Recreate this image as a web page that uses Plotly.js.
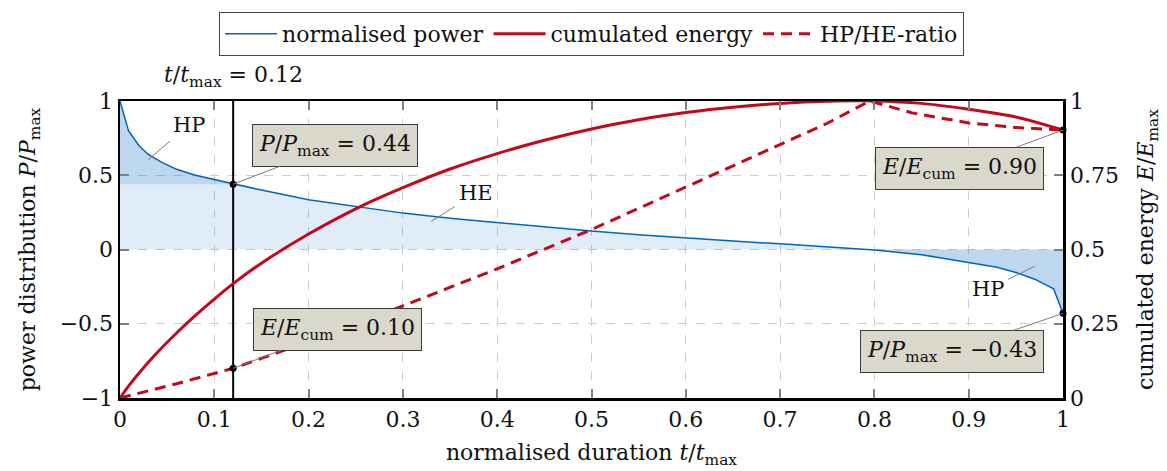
<!DOCTYPE html>
<html><head><meta charset="utf-8">
<script src="https://cdn.plot.ly/plotly-3.0.1.min.js"></script>
<style>html,body{margin:0;padding:0;background:#fff}#chart{width:1167px;height:471px}</style>
</head><body><div id="chart"></div>
<script>
// ---- data ----
const tPower = [0,0.009,0.02,0.03,0.045,0.06,0.08,0.1,0.12,0.15,0.2,0.25,0.3,0.35,0.4,0.45,0.5,0.55,0.6,0.65,0.7,0.75,0.8,0.85,0.9,0.93,0.95,0.97,0.99,1];
const power  = [1,0.80,0.70,0.64,0.585,0.54,0.50,0.47,0.44,0.40,0.335,0.292,0.245,0.21,0.18,0.15,0.124,0.10,0.076,0.057,0.038,0.018,-0.004,-0.035,-0.085,-0.12,-0.155,-0.2,-0.265,-0.43];
const tEnergy = [0,0.01,0.025,0.04,0.06,0.08,0.1,0.12,0.15,0.2,0.25,0.3,0.35,0.4,0.45,0.5,0.55,0.6,0.65,0.7,0.75,0.8,0.85,0.9,0.95,1];
const energy  = [0,0.044,0.102,0.155,0.219,0.278,0.333,0.385,0.454,0.552,0.637,0.708,0.771,0.823,0.868,0.906,0.937,0.961,0.979,0.992,0.999,1.0,0.992,0.972,0.946,0.902];
const tRatio = [0,0.06,0.12,0.2,0.3,0.4,0.5,0.6,0.7,0.75,0.795,0.84,0.9,0.95,1];
const ratio  = [0,0.048,0.10,0.19,0.31,0.435,0.567,0.71,0.852,0.925,1.0,0.96,0.926,0.911,0.902];
const tCursor = 0.12;
const xTicks = [0,0.1,0.2,0.3,0.4,0.5,0.6,0.7,0.8,0.9,1];
const xTickText = ['0','0.1','0.2','0.3','0.4','0.5','0.6','0.7','0.8','0.9','1'];
const yTicks = [-1,-0.5,0,0.5,1];
const yTickText = ['\u22121','\u22120.5','0','0.5','1'];
const y2Ticks = [0,0.25,0.5,0.75,1];
const y2TickText = ['0','0.25','0.5','0.75','1'];
const seriesNames = ['normalised power','cumulated energy','HP/HE-ratio'];
const boxTexts = ['<i>P</i>/<i>P</i><sub>max</sub> = 0.44','<i>E</i>/<i>E</i><sub>cum</sub> = 0.10','<i>E</i>/<i>E</i><sub>cum</sub> = 0.90','<i>P</i>/<i>P</i><sub>max</sub> = \u22120.43'];
const regionTexts = ['HP','HE','HP'];

// ---- derived ----
const iC = tPower.indexOf(tCursor);
const pCursor = power[iC];
const rCursor = ratio[tRatio.indexOf(tCursor)];
const pEnd = power[power.length-1];
const rEnd = ratio[ratio.length-1];

const BLUE='#0065bd', RED='#c4071b';
const FONT='"DejaVu Serif", serif';
const FS=22;

const lightX=[], lightY=[], topX=[], topY=[], baseY=[], botX=[], botY=[];
tPower.forEach((t,i)=>{
  const p=power[i];
  if (t<=0.8){ lightX.push(t); lightY.push(Math.max(0,Math.min(p,pCursor))); }
  if (t<=tCursor){ topX.push(t); topY.push(p); baseY.push(pCursor); }
  if (t>=0.75){ botX.push(t); botY.push(Math.min(p,0)); }
});

const traces = [
  {x:lightX,y:lightY,mode:'lines',line:{width:0},fill:'tozeroy',fillcolor:'rgba(0,101,189,0.12)',showlegend:false,hoverinfo:'skip'},
  {x:topX,y:baseY,mode:'lines',line:{width:0},showlegend:false,hoverinfo:'skip'},
  {x:topX,y:topY,mode:'lines',line:{width:0},fill:'tonexty',fillcolor:'rgba(0,101,189,0.26)',showlegend:false,hoverinfo:'skip'},
  {x:botX,y:botY,mode:'lines',line:{width:0},fill:'tozeroy',fillcolor:'rgba(0,101,189,0.26)',showlegend:false,hoverinfo:'skip'},
  {x:tPower,y:power,mode:'lines',name:seriesNames[0],line:{color:BLUE,width:1.5}},
  {x:tEnergy,y:energy,yaxis:'y2',mode:'lines',name:seriesNames[1],line:{color:RED,width:3,shape:'spline',smoothing:0.6}},
  {x:tRatio,y:ratio,yaxis:'y2',mode:'lines',name:seriesNames[2],line:{color:RED,width:3,dash:'11px,7px'}},
  {x:[tCursor,tCursor],y:[-1,1],mode:'lines',line:{color:'#000',width:2},showlegend:false,hoverinfo:'skip',cliponaxis:false},
  {x:[tCursor,1],y:[pCursor,pEnd],mode:'markers',marker:{color:'#000',size:7},showlegend:false,cliponaxis:false},
  {x:[tCursor,1],y:[rCursor,rEnd],yaxis:'y2',mode:'markers',marker:{color:'#000',size:7},showlegend:false,cliponaxis:false}
];

const boxStyle = {showarrow:true,arrowhead:0,arrowwidth:1,arrowcolor:'#7a7a7a',standoff:0,
  bgcolor:'#dad7cb',bordercolor:'#3a3a3a',borderwidth:1,borderpad:6,font:{family:FONT,size:FS,color:'#111'}};
const pinStyle = {showarrow:true,arrowhead:0,arrowwidth:1,arrowcolor:'#7a7a7a',standoff:0,borderpad:4,
  font:{family:FONT,size:FS-1,color:'#111'}};

const annotations = [
  Object.assign({x:tCursor,y:pCursor,xref:'x',yref:'y',ax:102,ay:-39,text:boxTexts[0]},boxStyle),
  Object.assign({x:tCursor,y:rCursor,xref:'x',yref:'y2',ax:104,ay:-39,text:boxTexts[1]},boxStyle),
  Object.assign({x:1,y:rEnd,xref:'x',yref:'y2',ax:-104,ay:38,text:boxTexts[2]},boxStyle),
  Object.assign({x:1,y:pEnd,xref:'x',yref:'y',ax:-111,ay:38,text:boxTexts[3]},boxStyle),
  Object.assign({x:0.030,y:0.605,xref:'x',yref:'y',ax:41,ay:-35,text:regionTexts[0]},pinStyle),
  Object.assign({x:0.33,y:0.19,xref:'x',yref:'y',ax:45,ay:-28,text:regionTexts[1]},pinStyle),
  Object.assign({x:0.97,y:-0.113,xref:'x',yref:'y',ax:-47,ay:23,text:regionTexts[2]},pinStyle),
  {x:tCursor,y:1.083,xref:'x',yref:'paper',showarrow:false,yanchor:'middle',
   text:'<i>t</i>/<i>t</i><sub>max</sub> = 0.12',font:{family:FONT,size:FS,color:'#111'}}
];

const axisCommon = {ticks:'inside',ticklen:9,tickwidth:2,tickcolor:'#808080',showline:true,linecolor:'#000',linewidth:2.5,
  zeroline:false,tickfont:{family:FONT,size:FS,color:'#111'}};

const layout = {
  width:1167,height:471,margin:{l:120,r:104,t:96,b:73},
  paper_bgcolor:'#fff',plot_bgcolor:'#fff',
  font:{family:FONT,size:FS,color:'#111'},
  showlegend:true,
  legend:{orientation:'h',traceorder:'normal',x:0.5,xanchor:'center',y:1.3,yanchor:'top',bordercolor:'#444',borderwidth:1,
    font:{family:FONT,size:FS,color:'#111'},itemwidth:52,tracegroupgap:0},
  xaxis:Object.assign({},axisCommon,{range:[0,1],tickmode:'array',tickvals:xTicks,ticktext:xTickText,mirror:'ticks',
    showgrid:true,gridcolor:'#cdcdcd',gridwidth:1,griddash:'dash',
    title:{text:'normalised duration <i>t</i>/<i>t</i><sub>max</sub>',font:{family:FONT,size:FS},standoff:14}}),
  yaxis:Object.assign({},axisCommon,{range:[-1,1],tickmode:'array',tickvals:yTicks,ticktext:yTickText,mirror:true,
    showgrid:true,gridcolor:'#cdcdcd',gridwidth:1,griddash:'dash',
    title:{text:'power distribution <i>P</i>/<i>P</i><sub>max</sub>',font:{family:FONT,size:FS},standoff:18}}),
  yaxis2:Object.assign({},axisCommon,{range:[0,1],overlaying:'y',side:'right',tickmode:'array',tickvals:y2Ticks,ticktext:y2TickText,
    showgrid:false,
    title:{text:'cumulated energy <i>E</i>/<i>E</i><sub>max</sub>',font:{family:FONT,size:FS},standoff:20}}),
  annotations:annotations
};

Plotly.newPlot('chart',traces,layout,{staticPlot:true,displayModeBar:false});
</script>
</body></html>
